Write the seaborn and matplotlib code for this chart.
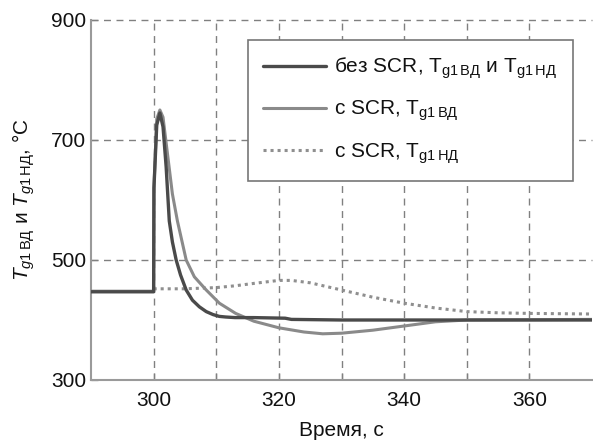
import numpy as np
import pandas as pd
import seaborn as sns
import matplotlib.pyplot as plt

# без SCR, Tg1 ВД и Tg1 НД
t_base = [290, 300, 300.05, 300.5, 301, 301.5, 302, 302.5, 303, 303.6, 304.3,
          305.2, 306.2, 307.3, 308.4, 309.5, 310.5, 311.5, 313, 316, 321, 322,
          330, 350, 370]
v_base = [447, 447, 620, 725, 745, 722, 655, 565, 530, 500, 475,
          450, 433, 422, 414, 409, 406, 405, 404, 404, 403, 401,
          400, 400, 400]

# с SCR, Tg1 ВД
t_hp = [290, 300, 300.05, 300.5, 301, 301.5, 302, 303, 303.8, 305.2, 306.5,
        308.4, 310.5, 313.1, 316, 320, 324, 327, 330, 335, 340, 345, 350, 370]
v_hp = [448, 448, 620, 735, 750, 738, 695, 610, 565, 500, 472,
        450, 428, 411, 398, 387, 380, 377, 378, 383, 390, 397, 400, 401]

# с SCR, Tg1 НД
t_lp = [300, 305, 310, 313, 316, 320, 322, 325, 330, 335, 340, 345, 350,
        355, 360, 370]
v_lp = [452, 452, 454, 457, 461, 466, 466, 462, 450, 438, 428, 420, 414,
        412, 411, 410]

labels = [r"без SCR, T$_{\mathrm{g1\,ВД}}$ и T$_{\mathrm{g1\,НД}}$",
          r"с SCR, T$_{\mathrm{g1\,ВД}}$",
          r"с SCR, T$_{\mathrm{g1\,НД}}$"]

x_ticks = [300, 310, 320, 330, 340, 350, 360]
x_labels = ["300", "", "320", "", "340", "", "360"]
y_ticks = [300, 500, 700, 900]


def main():
    sns.set_style("ticks")
    plt.rcParams['font.family'] = ['Liberation Sans', 'DejaVu Sans']
    plt.rcParams['mathtext.fontset'] = 'custom'
    plt.rcParams['mathtext.rm'] = 'Liberation Sans'
    plt.rcParams['mathtext.it'] = 'Liberation Sans:italic'
    plt.rcParams['text.color'] = '#111111'
    plt.rcParams['axes.labelcolor'] = '#111111'

    fig = plt.figure(figsize=(5.93, 4.45), dpi=100)
    ax = fig.add_axes([91 / 593, 1 - 380 / 445, 501 / 593, 360 / 445])

    df_base = pd.DataFrame({"t": t_base, "T": v_base})
    df_hp = pd.DataFrame({"t": t_hp, "T": v_hp})
    df_lp = pd.DataFrame({"t": t_lp, "T": v_lp})

    sns.lineplot(data=df_lp, x="t", y="T", ax=ax, color="#8f8f8f",
                 linestyle=(0, (1, 1.3)), linewidth=2.2, label=labels[2],
                 zorder=3)
    sns.lineplot(data=df_hp, x="t", y="T", ax=ax, color="#8a8a8a",
                 linewidth=2.2, label=labels[1], zorder=4)
    sns.lineplot(data=df_base, x="t", y="T", ax=ax, color="#4a4a4a",
                 linewidth=2.4, label=labels[0], zorder=5)

    ax.set_xlim(290, 370)
    ax.set_ylim(300, 900)
    ax.set_xticks(x_ticks)
    ax.set_xticklabels(x_labels)
    ax.set_yticks(y_ticks)

    # dashed grid
    for x in x_ticks:
        ax.axvline(x, color="#808080", linestyle=(0, (5, 4)), linewidth=1,
                   zorder=1)
    for y in [500, 700, 900]:
        ax.axhline(y, color="#808080", linestyle=(0, (5, 4)), linewidth=1,
                   zorder=1, clip_on=False)

    for side in ["top", "right"]:
        ax.spines[side].set_visible(False)
    for side in ["left", "bottom"]:
        ax.spines[side].set_color("#9a9a9a")
        ax.spines[side].set_linewidth(1.5)
    ax.tick_params(direction="in", length=5, color="#9a9a9a", width=1,
                   labelsize=15, labelcolor="#111111")
    ax.tick_params(axis="x", pad=8)

    ax.set_xlabel("Время, с", fontsize=15, labelpad=8)
    ax.set_ylabel(r"$T_{g1\,\mathrm{ВД}}$ и $T_{g1\,\mathrm{НД}}$, °C",
                  fontsize=15, labelpad=10)

    handles, labs = ax.get_legend_handles_labels()
    order = [2, 1, 0]
    leg = ax.legend([handles[i] for i in order], [labs[i] for i in order],
                    loc="upper left", bbox_to_anchor=(0.313, 0.944),
                    borderaxespad=0, fontsize=15, handlelength=3.0,
                    labelspacing=0.85, fancybox=False, framealpha=1,
                    edgecolor="#777777", borderpad=0.75, handletextpad=0.4)
    leg.get_frame().set_linewidth(1.2)

    fig.savefig("out.png", dpi=100)


if __name__ == "__main__":
    main()
